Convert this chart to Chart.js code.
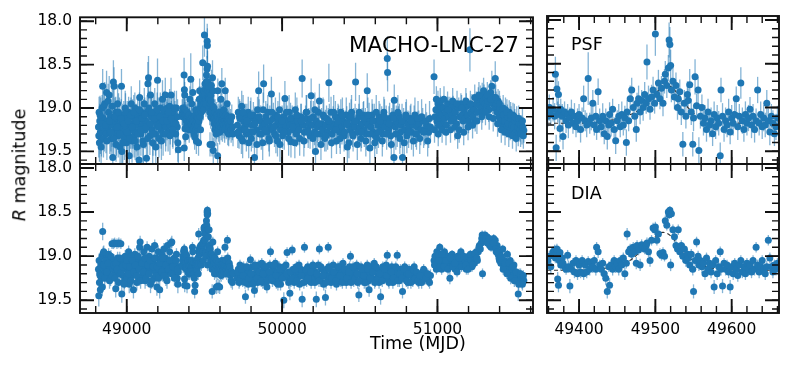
<!DOCTYPE html>
<html>
<head>
<meta charset="utf-8">
<script src="https://cdn.jsdelivr.net/npm/chart.js@4.4.0/dist/chart.umd.min.js"></script>
<style>
body { margin: 0; background: #fff; width: 793px; height: 369px; overflow: hidden; position: relative; font-family: 'DejaVu Sans', sans-serif; }
canvas { position: absolute; left: 0; top: 0; }
.t { position: absolute; line-height: 1; white-space: nowrap; color: #000; }
</style>
</head>
<body>
<canvas id="tl" width="793" height="369"></canvas>
<canvas id="tr" width="793" height="369"></canvas>
<canvas id="bl" width="793" height="369"></canvas>
<canvas id="br" width="793" height="369"></canvas>
<div class="t" style="left:349px;top:34px;font-size:21.5px">MACHO-LMC-27</div>
<div class="t" style="left:571px;top:36px;font-size:17.5px">PSF</div>
<div class="t" style="left:571px;top:185px;font-size:17.5px">DIA</div>
<div class="t" style="left:370px;top:335px;font-size:17.5px">Time (MJD)</div>
<div class="t" style="left:20px;top:165px;font-size:17.5px;transform:translate(-50%,-50%) rotate(-90deg)"><i>R</i> magnitude</div>
<script>
// columns: MJD, PSF mag, PSF err, DIA mag, DIA err
const season1 = [
  [48818,19.22,.20,19.15,.10],[48820,19.32,.25,19.45,.12],[48822,19.05,.18,19.05,.08],[48824,19.40,.22,19.30,.10],
  [48826,19.15,.20,19.20,.09],[48830,19.28,.25,19.38,.11],[48833,19.10,.22,19.10,.08],[48837,19.36,.20,19.25,.09],
  [48841,19.00,.15,19.00,.07],[48845,18.75,.20,18.72,.10],[48848,19.12,.18,18.97,.08],[48852,18.98,.20,18.95,.07],
  [48856,19.25,.25,19.18,.09],[48860,19.18,.20,19.08,.08],[48866,19.30,.22,19.22,.08],[48870,18.82,.25,19.02,.07],
  [48874,19.15,.20,19.12,.08],[48878,19.22,.18,19.20,.08],[48883,19.05,.20,18.98,.07],[48887,18.85,.22,19.05,.08],
  [48891,19.28,.25,19.15,.09],[48896,19.10,.18,19.25,.09],[48900,19.35,.20,19.10,.08],[48905,19.20,.25,18.86,.06],
  [48910,19.57,.20,19.15,.08],[48914,18.70,.25,18.86,.06],[48918,18.75,.22,19.05,.07],[48922,19.15,.20,18.85,.06],
  [48926,19.25,.22,19.12,.08],[48929,19.05,.18,19.37,.10],[48933,19.30,.25,19.18,.08],[48937,19.12,.20,18.86,.06],
  [48941,18.95,.22,19.02,.07],[48945,19.32,.25,19.10,.08],[48949,19.20,.18,18.85,.06],[48953,19.08,.20,19.20,.09],
  [48957,19.45,.25,19.08,.08],[48962,19.25,.22,18.86,.06],[48966,18.75,.20,19.15,.08],[48968,19.50,.25,19.43,.10],
  [48972,19.15,.20,19.05,.07],[48976,19.28,.22,19.22,.08],[48981,19.10,.18,19.10,.08],[48985,19.35,.25,19.28,.09],
  [48990,19.00,.20,19.00,.07],[48994,19.22,.22,19.15,.08],[48998,19.40,.25,19.08,.08],[49003,19.12,.20,19.25,.09],
  [49007,19.30,.22,19.12,.08],[49012,19.05,.18,18.95,.07],[49016,19.55,.25,19.32,.10],[49020,19.18,.20,19.05,.07],
  [49025,19.25,.22,19.18,.08],[49029,18.95,.20,19.00,.07],[49034,19.38,.25,19.22,.09],[49038,19.10,.20,19.10,.08],
  [49043,19.22,.22,19.38,.10],[49047,19.32,.25,19.15,.08],[49052,19.00,.18,18.98,.07],[49056,19.15,.20,19.20,.09],
  [49061,19.28,.22,19.08,.08],[49065,19.45,.25,19.30,.09],[49070,19.08,.20,19.02,.07],[49074,19.20,.22,19.15,.08],
  [49079,19.60,.25,19.25,.09],[49083,18.88,.20,18.90,.07],[49086,19.12,.22,18.84,.07],[49091,19.30,.25,19.12,.08],
  [49095,19.05,.20,19.05,.07],[49100,19.20,.22,19.22,.09],[49104,19.38,.25,19.10,.08],[49109,19.10,.20,18.95,.07],
  [49113,18.95,.18,19.18,.08],[49118,19.25,.22,19.28,.09],[49122,19.15,.20,19.05,.07],[49127,19.58,.25,19.15,.08],
  [49131,19.05,.20,18.90,.07],[49136,18.72,.25,19.10,.08],[49140,18.65,.25,19.20,.09],[49144,19.22,.20,19.00,.07],
  [49149,19.32,.22,19.12,.08],[49153,18.85,.20,19.32,.10],[49158,19.10,.22,19.05,.07],[49162,19.25,.20,18.92,.07],
  [49167,19.40,.25,19.15,.08],[49171,19.05,.20,19.08,.08],[49176,19.15,.22,19.25,.09],[49180,18.95,.18,18.88,.07],
  [49185,19.30,.25,19.18,.08],[49189,19.12,.20,19.02,.07],[49194,19.20,.22,19.35,.10],[49198,18.68,.25,19.10,.08],
  [49203,19.08,.20,18.95,.07],[49207,19.35,.22,19.15,.08],[49212,19.18,.20,19.38,.10],[49216,19.00,.18,19.05,.07],
  [49221,19.25,.22,19.12,.08],[49225,19.12,.20,18.98,.07],[49230,18.90,.22,19.20,.09],[49234,19.30,.25,19.08,.08],
  [49239,19.05,.20,18.92,.07],[49243,19.18,.22,19.15,.08],[49248,18.85,.20,19.02,.07],[49252,19.22,.22,19.25,.09],
  [49257,19.10,.20,19.10,.08],[49262,19.00,.18,18.88,.07],[49266,19.28,.22,19.05,.07],[49271,19.15,.20,19.18,.08],
  [49276,18.98,.20,18.95,.07],[49280,19.20,.22,19.12,.08],[49285,18.85,.20,18.85,.06],[49290,19.10,.22,18.84,.07],
  [49295,19.25,.20,19.08,.08],[49300,19.05,.18,19.15,.08],[49305,19.18,.22,19.02,.07],[49310,19.12,.20,19.20,.09],
  [49315,19.30,.22,19.10,.08],[49320,19.00,.20,18.98,.07],[49325,19.22,.20,19.25,.09],[49329,19.40,.22,19.32,.10],
  [49332,19.48,.25,19.18,.08],
  [48828,19.08,.22,19.22,.09],[48835,19.45,.25,19.12,.08],[48843,19.18,.20,19.35,.10],[48850,19.35,.22,19.10,.08],
  [48858,18.95,.25,19.25,.09],[48864,19.20,.20,19.05,.07],[48872,19.38,.22,19.18,.08],[48880,18.92,.20,19.08,.07],
  [48889,19.15,.25,19.28,.09],[48898,19.28,.22,19.00,.07],[48907,18.98,.20,19.22,.08],[48916,19.35,.25,19.10,.08],
  [48924,19.10,.22,19.25,.09],[48931,19.42,.20,19.08,.08],[48939,19.22,.25,19.15,.08],[48947,19.05,.22,19.30,.09],
  [48955,19.30,.20,19.02,.07],[48964,19.12,.22,19.18,.08],[48974,19.40,.25,19.12,.08],[48983,19.18,.20,19.32,.09],
  [48992,19.05,.22,19.10,.07],[49001,19.28,.25,19.05,.07],[49010,19.15,.20,19.20,.08],[49018,19.35,.22,19.12,.08],
  [49027,19.08,.20,19.28,.09],[49036,19.22,.25,19.05,.07],[49045,19.05,.20,19.18,.08],[49054,19.38,.22,19.10,.08],
  [49063,19.15,.20,19.22,.09],[49072,19.30,.25,19.00,.07],[49081,19.02,.20,19.15,.08],[49089,19.25,.22,19.28,.09],
  [49098,19.12,.20,19.08,.07],[49107,19.42,.25,19.18,.08],[49116,19.08,.20,19.02,.07],[49125,19.22,.22,19.25,.09],
  [49134,19.35,.25,19.10,.08],[49142,19.00,.20,19.20,.08],[49151,19.18,.22,19.05,.07],[49160,19.05,.20,19.28,.09],
  [49169,19.30,.25,19.12,.08],[49178,19.12,.20,19.02,.07],[49187,19.45,.22,19.22,.08],[49196,19.02,.20,19.12,.08],
  [49205,19.22,.25,19.25,.09],[49214,19.10,.20,19.08,.07],[49223,19.38,.22,19.18,.08],[49232,19.15,.20,19.02,.07],
  [49241,19.02,.22,19.22,.08],[49250,19.30,.20,19.10,.08],[49259,19.15,.22,19.28,.09],[49268,19.05,.20,19.15,.08],
  [49278,19.32,.22,19.05,.07],[49287,19.12,.20,19.20,.08],[49297,19.25,.22,19.12,.08],[49307,19.00,.20,19.25,.09],
  [49317,19.18,.22,19.05,.07],[49327,19.10,.20,19.15,.08]
];
const season2 = [
  [49357,19.05,.15,19.10,.07],[49359,19.10,.12,19.05,.06],[49361,19.00,.15,19.00,.06],[49363,19.08,.12,19.12,.07],
  [49366,19.02,.14,18.95,.06],[49368,19.10,.15,18.93,.06],[49369,18.62,.20,19.02,.06],[49370,19.46,.15,18.98,.07],
  [49371,18.79,.18,18.92,.06],[49372,19.05,.12,19.26,.08],[49373,18.85,.15,19.33,.08],[49374,19.08,.12,19.05,.06],
  [49375,19.24,.15,18.96,.06],[49376,19.02,.12,19.10,.07],[49378,19.10,.14,19.02,.06],[49379,19.33,.15,19.08,.07],
  [49381,19.05,.12,19.12,.07],[49383,19.15,.14,19.15,.06],[49385,19.08,.12,18.99,.06],[49386,19.20,.15,19.12,.07],
  [49388,19.12,.12,19.34,.08],[49390,19.05,.14,19.15,.06],[49392,19.18,.12,19.08,.06],[49394,19.10,.15,19.18,.07],
  [49396,19.22,.12,19.05,.06],[49398,19.15,.14,19.20,.07],[49400,19.08,.12,19.10,.06],[49402,19.25,.15,19.18,.07],
  [49404,19.12,.12,19.05,.06],[49406,18.90,.15,19.20,.07],[49408,19.15,.12,19.10,.06],[49410,19.20,.14,19.18,.07],
  [49412,18.67,.30,19.06,.06],[49414,19.18,.12,19.15,.07],[49416,19.12,.14,19.08,.06],[49418,18.95,.15,19.12,.07],
  [49420,19.20,.12,19.05,.06],[49422,19.10,.14,19.15,.07],[49423,19.25,.12,18.90,.06],[49425,18.82,.15,18.95,.07],
  [49427,19.15,.14,19.10,.06],[49429,19.22,.12,19.15,.07],[49431,19.10,.15,19.08,.06],[49433,19.30,.12,19.20,.07],
  [49435,19.15,.14,19.25,.08],[49437,19.33,.15,19.40,.08],[49439,19.20,.12,19.12,.06],[49440,19.08,.14,19.33,.08],
  [49442,19.18,.15,19.10,.06],[49444,19.02,.12,19.15,.07],[49446,19.25,.14,19.05,.06],[49448,19.38,.15,19.12,.07],
  [49450,19.15,.12,19.08,.06],[49452,19.10,.14,19.15,.07],[49454,19.22,.12,19.05,.06],[49456,19.08,.15,19.10,.07],
  [49458,19.20,.12,19.02,.06],[49460,19.12,.14,19.20,.07],[49462,19.40,.15,19.08,.06],[49463,19.05,.14,18.75,.07],
  [49465,19.15,.12,18.95,.06],[49467,18.90,.15,18.92,.06],[49469,18.80,.14,18.98,.07],[49471,19.00,.12,18.90,.06],
  [49473,19.10,.15,18.95,.06],[49475,19.25,.14,19.08,.07],[49476,18.95,.12,18.88,.06],[49478,18.90,.15,18.93,.06],
  [49480,19.05,.14,19.10,.07],[49482,18.92,.12,18.87,.06],[49484,19.00,.15,18.90,.06],[49486,18.85,.14,18.92,.06],
  [49488,18.95,.12,18.88,.06],[49489,18.48,.20,18.85,.06],[49491,18.90,.15,18.95,.06],[49493,19.02,.12,19.05,.07],
  [49495,18.88,.14,18.82,.06],[49497,18.80,.15,18.68,.06],[49499,18.95,.12,18.70,.06],[49500,18.16,.25,18.67,.06],
  [49502,18.85,.14,18.82,.06],[49504,18.72,.15,18.75,.06],[49506,18.90,.12,18.97,.06],[49508,18.78,.14,18.99,.06],
  [49510,18.95,.15,18.96,.06],[49512,18.70,.14,19.00,.06],[49513,18.62,.15,18.60,.06],[49515,18.75,.14,18.65,.06],
  [49517,18.55,.15,18.50,.05],[49518,18.23,.20,18.53,.05],[49519,18.28,.20,18.48,.05],[49520,18.52,.18,19.10,.07],
  [49521,18.80,.14,18.52,.05],[49523,18.70,.15,18.70,.06],[49525,18.88,.14,18.78,.06],[49527,18.75,.15,18.88,.06],
  [49529,19.00,.14,18.92,.06],[49530,18.90,.15,18.70,.06],[49532,18.82,.14,18.95,.06],[49534,19.05,.15,18.88,.06],
  [49536,19.42,.14,19.00,.07],[49538,18.95,.15,18.92,.06],[49540,19.10,.14,19.05,.07],[49542,18.85,.15,18.98,.06],
  [49543,18.92,.14,19.02,.06],[49545,18.74,.18,19.10,.07],[49547,19.05,.15,18.98,.06],[49549,19.42,.14,19.15,.07],
  [49550,19.12,.15,19.40,.08],[49552,18.65,.20,19.05,.06],[49554,18.98,.14,18.84,.06],[49556,18.80,.15,19.00,.06],
  [49557,19.49,.15,19.10,.07],[49559,19.10,.14,19.05,.06],[49561,19.00,.15,19.12,.07],[49563,19.18,.14,19.08,.06],
  [49565,19.12,.15,19.20,.07],[49567,19.25,.14,19.02,.06],[49569,19.05,.15,19.15,.07],[49571,19.20,.14,19.08,.06],
  [49573,19.15,.15,19.18,.07],[49575,19.30,.14,19.10,.06],[49577,19.08,.15,19.35,.08],[49579,19.22,.14,19.05,.06],
  [49581,19.12,.15,19.20,.07],[49583,19.18,.14,19.12,.06],[49585,19.55,.15,18.95,.06],[49586,18.80,.14,19.15,.07],
  [49588,19.10,.15,19.34,.08],[49590,19.25,.14,19.08,.06],[49592,19.15,.15,19.15,.07],[49594,19.20,.14,19.10,.06],
  [49596,19.05,.15,19.18,.07],[49598,19.28,.14,19.35,.08],[49600,19.12,.15,19.12,.07],[49602,19.18,.14,19.20,.07],
  [49604,19.08,.15,19.08,.06],[49606,18.90,.14,19.15,.07],[49608,19.22,.15,19.22,.07],[49610,19.10,.14,19.10,.06],
  [49612,18.72,.18,19.05,.06],[49614,19.15,.15,19.18,.07],[49616,19.25,.14,19.12,.06],[49618,19.08,.15,19.20,.07],
  [49620,19.18,.14,19.08,.06],[49622,19.12,.15,19.15,.07],[49624,19.02,.14,19.10,.06],[49626,19.20,.15,19.18,.07],
  [49628,19.10,.14,19.05,.06],[49630,19.25,.15,19.15,.07],[49632,19.15,.14,18.90,.06],[49634,18.80,.15,19.10,.06],
  [49636,19.18,.14,19.18,.07],[49638,19.08,.15,19.12,.07],[49640,19.22,.14,19.05,.06],[49642,19.12,.15,19.15,.07],
  [49644,19.20,.14,19.20,.07],[49646,18.95,.15,19.12,.07],[49648,19.15,.14,18.82,.06],[49650,19.28,.15,19.02,.06],
  [49652,19.10,.14,19.12,.07],[49654,19.18,.15,19.18,.07],[49656,19.30,.14,19.10,.06],[49658,19.22,.15,19.15,.07],
  [49660,19.12,.14,19.08,.06],[49664,19.20,.15,19.12,.07],[49668,19.15,.14,19.22,.07],[49672,19.25,.15,19.28,.08],
  [49676,19.10,.14,19.18,.07],[49680,19.22,.15,19.30,.08],[49684,19.30,.14,19.20,.07]
];
const season3 = [
  [49712,19.20,.15,19.25,.07],[49718,19.05,.18,19.15,.06],[49723,19.32,.15,19.30,.07],[49729,19.12,.20,19.10,.06],
  [49735,19.25,.15,19.22,.07],[49740,18.98,.18,19.18,.06],[49746,19.38,.20,19.28,.07],[49752,19.15,.15,19.12,.06],
  [49758,19.22,.18,19.25,.07],[49764,19.10,.15,19.46,.08],[49770,19.30,.20,19.20,.07],[49776,19.18,.15,19.15,.06],
  [49782,19.05,.18,19.32,.07],[49788,19.28,.15,19.18,.06],[49796,19.12,.20,19.04,.06],[49802,19.35,.15,19.25,.07],
  [49808,19.20,.18,19.12,.06],[49815,19.08,.15,19.28,.07],[49822,19.57,.20,19.39,.08],[49828,19.15,.15,19.20,.06],
  [49835,19.25,.18,19.15,.06],[49842,19.02,.15,19.30,.07],[49849,18.80,.22,19.10,.06],[49856,19.30,.15,19.22,.07],
  [49862,19.15,.18,19.18,.06],[49869,19.22,.15,19.08,.06],[49875,19.40,.20,19.30,.07],[49881,18.72,.22,19.15,.06],
  [49888,19.18,.15,19.22,.07],[49895,19.10,.18,19.12,.06],[49902,19.28,.15,19.35,.07],[49908,19.05,.20,19.18,.06],
  [49915,19.35,.15,19.25,.07],[49921,19.15,.18,19.10,.06],[49925,19.22,.15,18.95,.06],[49931,18.84,.20,19.20,.07],
  [49938,19.25,.15,19.28,.07],[49944,19.12,.18,19.15,.06],[49951,19.30,.15,19.22,.07],[49957,19.08,.20,19.08,.06],
  [49963,19.20,.15,19.30,.07],[49970,19.38,.18,19.18,.06],[49976,19.15,.15,19.25,.07],[49983,19.02,.20,19.12,.06],
  [49990,19.25,.15,19.32,.07],[49996,19.18,.18,19.20,.06],[50003,19.32,.15,19.15,.06],[50011,19.10,.20,19.50,.09],
  [50018,18.89,.20,19.22,.07],[50025,19.22,.15,19.10,.06],[50032,19.15,.18,18.96,.06],[50039,19.28,.15,19.25,.07],
  [50045,19.05,.20,19.18,.06],[50050,19.20,.15,19.42,.08],[50057,19.39,.18,19.28,.07],[50065,19.12,.15,18.93,.06],
  [50072,19.25,.18,19.15,.06],[50078,19.18,.15,19.30,.07],[50085,19.02,.20,19.20,.06],[50092,19.30,.15,19.12,.06],
  [50099,19.15,.18,19.25,.07],[50106,19.22,.15,19.18,.06],[50113,19.35,.20,19.32,.07],[50120,19.10,.15,19.15,.06],
  [50129,18.66,.22,19.49,.09],[50136,19.20,.15,19.22,.07],[50144,19.28,.18,18.90,.06],[50151,19.12,.15,19.18,.06],
  [50158,19.05,.20,19.28,.07],[50165,19.25,.15,19.12,.06],[50172,19.18,.18,19.22,.07],[50180,19.32,.15,19.15,.06],
  [50187,18.86,.20,19.30,.07],[50194,19.20,.15,19.20,.06],[50201,19.10,.18,19.12,.06],[50208,19.28,.15,19.25,.07],
  [50215,19.50,.20,19.18,.06],[50220,19.15,.15,19.49,.09],[50227,19.22,.18,19.22,.07],[50233,19.05,.15,19.10,.06],
  [50240,18.92,.20,18.92,.06],[50247,19.30,.15,19.28,.07],[50254,19.18,.18,19.15,.06],[50261,19.25,.15,19.22,.07],
  [50268,19.10,.20,19.32,.07],[50274,19.35,.15,19.18,.06],[50279,19.20,.18,19.47,.09],[50286,19.12,.15,19.15,.06],
  [50293,19.28,.20,19.25,.07],[50297,19.15,.15,18.90,.06],[50301,18.71,.22,19.12,.06],[50308,19.22,.15,19.22,.07],
  [50315,19.05,.18,19.30,.07],[50322,19.30,.15,19.18,.06],[50329,19.18,.20,19.10,.06],[50336,19.25,.15,19.25,.07],
  [50343,19.10,.18,19.20,.06],[50350,19.38,.15,19.32,.07],[50357,19.20,.20,19.15,.06],[50364,19.12,.15,19.22,.07],
  [50371,19.28,.18,19.12,.06],[50378,19.05,.15,19.28,.07],[50385,19.22,.20,19.18,.06],[50392,19.15,.15,19.08,.06],
  [50399,19.32,.18,19.25,.07],[50406,19.18,.15,19.20,.06],[50413,19.08,.20,19.30,.07],[50420,19.45,.18,19.15,.06],
  [50427,19.20,.15,19.22,.07],[50434,19.12,.18,19.12,.06],[50440,19.25,.15,19.00,.06],[50447,19.05,.20,19.25,.07],
  [50454,19.30,.15,19.18,.06],[50461,19.18,.18,19.28,.07],[50467,19.22,.15,19.15,.06],[50473,18.70,.22,19.22,.07],
  [50480,19.15,.15,19.10,.06],[50487,19.28,.18,19.30,.07],[50494,19.10,.15,19.44,.08],[50501,19.22,.20,19.20,.06],
  [50508,19.35,.15,19.12,.06],[50515,19.18,.18,19.25,.07],[50522,19.08,.15,19.18,.06],[50529,19.25,.20,19.30,.07],
  [50536,19.15,.15,19.15,.06],[50542,19.30,.18,19.22,.07],[50548,18.80,.20,19.10,.06],[50555,19.20,.15,19.28,.07],
  [50560,19.12,.18,19.38,.08],[50565,19.46,.20,19.20,.06],[50572,19.22,.15,19.12,.06],[50579,19.08,.18,19.25,.07],
  [50586,19.28,.15,19.18,.06],[50593,19.15,.20,19.08,.06],[50600,19.32,.15,19.28,.07],[50610,19.35,.18,19.15,.06],
  [50617,19.20,.15,19.22,.07],[50624,19.10,.18,19.30,.07],[50634,19.25,.15,19.46,.09],[50641,19.18,.20,19.18,.06],
  [50648,19.30,.15,19.12,.06],[50655,19.05,.18,19.25,.07],[50662,19.22,.15,19.20,.06],[50670,19.15,.18,19.10,.06],
  [50677,18.43,.25,18.99,.06],[50679,18.59,.22,19.15,.06],[50685,19.25,.15,19.28,.07],[50692,19.12,.18,19.18,.06],
  [50699,19.32,.15,19.22,.07],[50706,19.20,.20,19.12,.06],[50713,19.08,.15,19.30,.07],[50720,19.57,.20,19.15,.06],
  [50722,18.91,.18,19.22,.07],[50729,19.22,.15,19.18,.06],[50735,19.15,.18,19.25,.07],[50741,19.30,.15,18.99,.06],
  [50748,19.18,.20,19.20,.06],[50755,19.10,.15,19.28,.07],[50762,19.28,.18,19.15,.06],[50768,19.20,.15,19.22,.07],
  [50775,19.57,.20,19.40,.08],[50782,19.15,.15,19.18,.06],[50789,19.25,.18,19.12,.06],[50796,19.08,.15,19.25,.07],
  [50803,19.32,.20,19.20,.06],[50810,19.18,.15,19.30,.07],[50817,19.22,.18,19.15,.06],[50825,19.12,.15,19.22,.07],
  [50833,19.28,.20,19.18,.06],[50841,19.20,.15,19.28,.07],[50850,19.15,.18,19.12,.06],[50860,19.30,.15,19.25,.07],
  [50870,19.22,.18,19.20,.06],[50880,19.18,.15,19.30,.07],[50892,19.25,.18,19.22,.07],[50905,19.15,.15,19.18,.06],
  [50918,19.25,.18,19.25,.07],[50930,19.20,.15,19.20,.06],[50943,19.28,.18,19.28,.07],[50955,19.22,.15,19.22,.07],
  [49715,19.28,.18,19.18,.06],[49726,19.10,.20,19.28,.07],[49738,19.35,.18,19.15,.06],[49749,19.05,.20,19.22,.07],
  [49761,19.25,.18,19.30,.07],[49773,19.15,.20,19.12,.06],[49785,19.40,.18,19.25,.07],[49799,19.08,.20,19.20,.06],
  [49812,19.28,.18,19.32,.07],[49825,19.18,.20,19.10,.06],[49838,19.42,.18,19.25,.07],[49852,19.10,.20,19.18,.06],
  [49866,19.30,.18,19.28,.07],[49878,19.02,.20,19.20,.06],[49891,19.25,.18,19.12,.06],[49905,19.15,.20,19.28,.07],
  [49918,19.38,.18,19.18,.06],[49934,19.05,.20,19.25,.07],[49947,19.22,.18,19.10,.06],[49960,19.32,.20,19.22,.07],
  [49973,19.10,.18,19.32,.07],[49986,19.42,.20,19.15,.06],[50000,19.15,.18,19.25,.07],[50014,19.28,.20,19.12,.06],
  [50028,19.05,.18,19.20,.06],[50042,19.35,.20,19.30,.07],[50054,19.12,.18,19.18,.06],[50068,19.22,.20,19.25,.07],
  [50082,19.40,.18,19.15,.06],[50095,19.08,.20,19.28,.07],[50109,19.25,.18,19.10,.06],[50124,19.15,.20,19.22,.07],
  [50140,19.38,.18,19.30,.07],[50155,19.05,.20,19.15,.06],[50168,19.28,.18,19.25,.07],[50184,19.12,.20,19.18,.06],
  [50198,19.35,.18,19.10,.06],[50211,19.02,.20,19.30,.07],[50224,19.30,.18,19.20,.06],[50237,19.18,.20,19.28,.07],
  [50250,19.42,.18,19.12,.06],[50264,19.08,.20,19.22,.07],[50283,19.32,.18,19.30,.07],[50304,19.15,.20,19.15,.06],
  [50318,19.40,.18,19.25,.07],[50332,19.05,.20,19.18,.06],[50346,19.25,.18,19.28,.07],[50360,19.15,.20,19.12,.06],
  [50374,19.35,.18,19.22,.07],[50388,19.08,.20,19.30,.07],[50402,19.28,.18,19.15,.06],[50416,19.18,.20,19.25,.07],
  [50430,19.40,.18,19.18,.06],[50444,19.10,.20,19.30,.07],[50457,19.32,.18,19.12,.06],[50470,19.15,.20,19.25,.07],
  [50484,19.42,.18,19.20,.06],[50497,19.05,.20,19.28,.07],[50511,19.28,.18,19.15,.06],[50525,19.12,.20,19.22,.07],
  [50539,19.38,.18,19.30,.07],[50552,19.08,.20,19.15,.06],[50568,19.30,.18,19.25,.07],[50582,19.15,.20,19.18,.06],
  [50596,19.40,.18,19.30,.07],[50606,19.05,.20,19.12,.06],[50620,19.28,.18,19.25,.07],[50630,19.15,.20,19.20,.06],
  [50645,19.38,.18,19.28,.07],[50659,19.10,.20,19.15,.06],[50673,19.30,.18,19.22,.07],[50688,19.18,.20,19.30,.07],
  [50703,19.42,.18,19.18,.06],[50717,19.12,.20,19.25,.07],[50732,19.30,.18,19.12,.06],[50745,19.05,.20,19.28,.07],
  [50758,19.35,.18,19.20,.06],[50772,19.15,.20,19.25,.07],[50786,19.40,.18,19.15,.06],[50800,19.10,.20,19.28,.07],
  [50814,19.28,.18,19.20,.06],[50829,19.15,.20,19.30,.07],[50845,19.38,.18,19.15,.06],[50855,19.08,.20,19.25,.07],
  [50865,19.30,.18,19.18,.06],[50875,19.12,.20,19.28,.07],[50886,19.35,.18,19.22,.06],[50898,19.10,.20,19.30,.07],
  [50911,19.28,.18,19.15,.06],[50924,19.15,.20,19.25,.07],[50937,19.38,.18,19.20,.06],[50949,19.12,.20,19.30,.07]
];
const season4 = [
  [50978,18.64,.20,19.05,.06],[50984,19.10,.12,19.00,.05],[50990,19.02,.14,19.10,.06],[50996,19.15,.12,18.95,.05],
  [51003,18.95,.15,19.05,.06],[51005,19.30,.14,19.12,.06],[51010,19.05,.12,18.98,.05],[51015,19.12,.14,18.90,.05],
  [51021,18.98,.12,19.08,.06],[51027,19.08,.15,19.15,.06],[51033,19.18,.12,19.02,.05],[51039,19.00,.14,19.10,.06],
  [51045,19.12,.12,18.95,.05],[51052,19.05,.15,19.05,.06],[51058,19.20,.12,19.12,.06],[51065,18.95,.14,19.00,.05],
  [51072,19.10,.12,19.08,.06],[51080,19.02,.15,19.25,.07],[51087,19.15,.12,19.05,.06],[51094,19.08,.14,18.98,.05],
  [51101,18.98,.12,19.10,.06],[51108,19.12,.15,19.02,.05],[51115,19.05,.12,19.15,.06],[51122,19.18,.14,19.08,.06],
  [51130,19.32,.15,19.00,.05],[51137,19.00,.12,19.12,.06],[51144,19.10,.14,19.05,.06],[51151,18.95,.12,18.95,.05],
  [51158,19.08,.15,19.10,.06],[51165,19.15,.12,19.02,.05],[51172,19.02,.14,19.12,.06],[51179,19.12,.12,19.05,.06],
  [51186,18.98,.15,19.15,.06],[51193,19.08,.12,19.08,.06],[51200,19.15,.14,19.00,.05],[51209,18.33,.25,19.10,.06],
  [51215,19.05,.12,19.05,.06],[51222,18.98,.14,19.12,.06],[51229,19.10,.12,18.98,.05],[51236,19.02,.15,19.08,.06],
  [51243,19.15,.12,19.02,.05],[51250,18.95,.14,18.95,.05],[51257,19.05,.12,19.05,.06],[51263,18.90,.14,18.95,.05],
  [51270,18.97,.12,18.88,.05],[51276,18.88,.14,18.92,.05],[51282,19.00,.12,18.85,.05],[51288,18.85,.14,18.76,.05],
  [51290,19.05,.12,19.20,.06],[51294,18.92,.14,18.78,.05],[51300,18.85,.12,18.80,.05],[51306,18.95,.14,18.76,.05],
  [51312,18.88,.12,18.82,.05],[51318,18.98,.14,18.78,.05],[51324,18.92,.12,18.85,.05],[51330,19.02,.14,18.82,.05],
  [51336,18.90,.12,18.88,.05],[51342,18.82,.14,18.85,.05],[51350,18.75,.18,18.83,.05],[51356,18.95,.12,18.88,.05],
  [51362,18.88,.14,18.80,.05],[51368,19.00,.12,18.86,.05],[51372,18.66,.20,18.82,.05],[51378,18.95,.14,18.95,.05],
  [51384,19.05,.12,18.88,.05],[51390,18.92,.14,18.98,.05],[51396,19.10,.12,19.02,.06],[51402,19.00,.14,18.95,.05],
  [51408,19.15,.12,19.08,.06],[51414,19.05,.14,19.05,.06],[51420,19.20,.12,18.92,.05],[51426,19.08,.14,19.12,.06],
  [51432,19.15,.12,19.05,.06],[51438,19.02,.14,19.15,.06],[51444,19.22,.12,19.10,.06],[51450,19.10,.14,18.98,.05],
  [51456,19.18,.12,19.18,.06],[51462,19.05,.14,19.12,.06],[51468,19.25,.12,19.05,.06],[51474,19.12,.14,19.20,.06],
  [51480,19.20,.12,19.15,.06],[51486,19.08,.14,19.22,.06],[51492,19.22,.12,19.10,.06],[51498,19.15,.14,19.25,.07],
  [51504,19.28,.12,19.18,.06],[51510,19.12,.14,19.22,.06],[51516,19.22,.12,19.28,.07],[51520,19.30,.14,19.43,.08],
  [51526,19.18,.12,19.20,.06],[51532,19.25,.14,19.28,.07],[51538,19.20,.12,19.22,.06],[51544,19.28,.14,19.30,.07],
  [51550,19.22,.12,19.25,.06],[51556,19.26,.14,19.28,.07],
  [50981,19.25,.15,19.10,.06],[50993,18.90,.15,19.15,.06],[51007,19.20,.15,19.05,.06],[51018,18.92,.15,19.12,.06],
  [51030,19.25,.15,18.98,.05],[51042,18.90,.15,19.12,.06],[51055,19.28,.15,19.05,.06],[51068,19.02,.15,19.15,.06],
  [51084,19.25,.15,19.02,.05],[51098,18.92,.15,19.12,.06],[51112,19.22,.15,19.08,.06],[51126,18.95,.15,19.18,.06],
  [51140,19.25,.15,19.02,.05],[51155,19.00,.15,19.12,.06],[51169,19.28,.15,19.00,.05],[51183,18.92,.15,19.10,.06],
  [51197,19.22,.15,19.15,.06],[51212,18.95,.15,18.98,.05],[51226,19.20,.15,19.10,.06],[51240,18.88,.15,18.98,.05],
  [51254,19.15,.15,19.02,.05],[51267,18.85,.15,18.90,.05],[51285,19.10,.15,18.80,.05],[51297,18.80,.15,18.82,.05],
  [51309,19.05,.15,18.80,.05],[51321,18.85,.15,18.85,.05],[51333,19.10,.15,18.80,.05],[51345,18.90,.15,18.90,.05],
  [51359,19.12,.15,18.85,.05],[51375,18.88,.15,18.92,.05],[51387,19.18,.15,18.95,.05],[51399,18.95,.15,19.05,.06],
  [51411,19.25,.15,19.00,.06],[51423,19.00,.15,19.15,.06],[51435,19.28,.15,19.08,.06],[51447,19.05,.15,19.20,.06],
  [51459,19.30,.15,19.08,.06],[51471,19.08,.15,19.25,.07],[51483,19.32,.15,19.12,.06],[51495,19.10,.15,19.28,.07],
  [51507,19.35,.15,19.18,.06],[51523,19.12,.15,19.32,.07],[51535,19.30,.15,19.20,.06],[51547,19.15,.15,19.32,.07],
  [51553,19.32,.15,19.22,.06]
];

// fitted lens model (dashed)
const modelT   = [49358,49380,49400,49420,49440,49455,49470,49480,49490,49498,49505,49510,49515,49520,49527,49535,49545,49555,49570,49590,49620,49662];
const psfModel = [19.18,19.18,19.18,19.17,19.15,19.12,19.07,19.02,18.94,18.86,18.80,18.77,18.75,18.76,18.82,18.92,19.02,19.10,19.15,19.17,19.18,19.18];
const diaModel = [19.16,19.16,19.16,19.15,19.13,19.10,19.03,18.95,18.86,18.79,18.74,18.73,18.74,18.77,18.84,18.93,19.02,19.08,19.13,19.15,19.16,19.16];

const obs = [...season1, ...season2, ...season3, ...season4];

const blue = '#1f77b4';
const tickFont = { family: "'DejaVu Sans'", size: 15.5 };

const errorBars = {
  id: 'errorBars',
  beforeDatasetsDraw(chart) {
    const { ctx, chartArea: a, scales: { x, y } } = chart;
    ctx.save();
    ctx.beginPath();
    ctx.rect(a.left, a.top, a.right - a.left, a.bottom - a.top);
    ctx.clip();
    ctx.strokeStyle = 'rgba(31,119,180,0.55)';
    ctx.lineWidth = 1.3;
    chart.data.datasets.forEach(ds => {
      if (!ds.errors) return;
      ds.data.forEach((p, i) => {
        const px = x.getPixelForValue(p.x);
        ctx.beginPath();
        ctx.moveTo(px, y.getPixelForValue(p.y - ds.errors[i]));
        ctx.lineTo(px, y.getPixelForValue(p.y + ds.errors[i]));
        ctx.stroke();
      });
    });
    ctx.restore();
  }
};

const steps = (min, max, step) => {
  const out = [];
  for (let k = Math.ceil(min / step - 1e-6); k * step <= max + 1e-9; k++) out.push(Math.round(k * step * 10) / 10);
  return out;
};

const frameTicks = {
  id: 'frameTicks',
  afterDraw(chart, args, o) {
    const { ctx, chartArea: a, scales: { x, y } } = chart;
    ctx.save();
    ctx.strokeStyle = '#111';
    const draw = (vals, len, w) => {
      ctx.lineWidth = w;
      ctx.beginPath();
      vals.x.forEach(v => {
        const px = x.getPixelForValue(v);
        ctx.moveTo(px, a.bottom); ctx.lineTo(px, a.bottom - len);
        ctx.moveTo(px, a.top); ctx.lineTo(px, a.top + len);
      });
      vals.y.forEach(v => {
        const py = y.getPixelForValue(v);
        ctx.moveTo(a.left, py); ctx.lineTo(a.left + len, py);
        ctx.moveTo(a.right, py); ctx.lineTo(a.right - len, py);
      });
      ctx.stroke();
    };
    draw({ x: steps(x.min, x.max, o.xMinor), y: steps(y.min, y.max, 0.1) }, 7, 1.4);
    draw({ x: steps(x.min, x.max, o.xMajor), y: steps(y.min, y.max, 0.5) }, 14, 1.9);
    ctx.lineWidth = 1.9;
    ctx.strokeRect(a.left, a.top, a.right - a.left, a.bottom - a.top);
    ctx.restore();
  }
};

function panel(id, box, xr, showX, showY, magCol, errCol, model) {
  const [left, top, right, bottom] = box;
  const datasets = [{
    data: obs.map(r => ({ x: r[0], y: r[magCol] })),
    errors: obs.map(r => r[errCol]),
    backgroundColor: blue,
    pointRadius: 3.5,
    pointHoverRadius: 3.5,
    borderWidth: 0,
    order: 1
  }];
  if (model) {
    datasets.push({
      type: 'line',
      data: modelT.map((t, i) => ({ x: t, y: model[i] })),
      borderColor: '#333',
      borderWidth: 1.1,
      borderDash: [4, 3],
      pointRadius: 0,
      cubicInterpolationMode: 'monotone',
      order: 2
    });
  }
  return new Chart(document.getElementById(id), {
    type: 'scatter',
    data: { datasets },
    options: {
      responsive: false,
      animation: false,
      devicePixelRatio: 1,
      events: [],
      layout: { padding: { left: 0, top: top, right: 793 - right, bottom: 369 - bottom - 40 } },
      plugins: {
        legend: { display: false },
        tooltip: { enabled: false },
        frameTicks: { xMajor: xr[2], xMinor: xr[3] }
      },
      scales: {
        x: {
          type: 'linear',
          min: xr[0], max: xr[1],
          grid: { display: false, drawTicks: false },
          border: { display: false },
          ticks: {
            display: showX, padding: 8,
            color: '#000', font: tickFont, maxRotation: 0, autoSkip: false,
            callback: v => String(v)
          },
          afterBuildTicks: s => { s.ticks = steps(xr[0], xr[1], xr[2]).map(v => ({ value: v })); },
          afterFit: s => { s.height = 40; }
        },
        y: {
          type: 'linear',
          reverse: true,
          min: 17.955, max: 19.645,
          grid: { display: false, drawTicks: false },
          border: { display: false },
          ticks: {
            display: showY, padding: 8,
            color: '#000', font: tickFont,
            callback: v => v.toFixed(1)
          },
          afterBuildTicks: s => { s.ticks = steps(17.955, 19.645, 0.5).map(v => ({ value: v })); },
          afterFit: s => { s.width = left; }
        }
      }
    },
    plugins: [errorBars, frameTicks]
  });
}

const wide = [48699, 51615, 1000, 200];
const zoomed = [49358, 49662, 100, 20];

panel('tl', [80, 16, 533, 164], wide, false, true, 1, 2, null);
panel('tr', [547, 16, 779, 164], zoomed, false, false, 1, 2, psfModel);
panel('bl', [80, 164, 533, 313], wide, true, true, 3, 4, null);
panel('br', [547, 164, 779, 313], zoomed, true, false, 3, 4, diaModel);
</script>
</body>
</html>
